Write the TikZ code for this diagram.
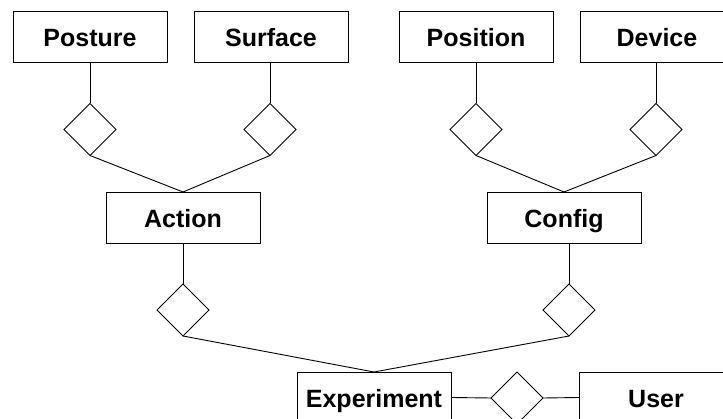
\documentclass[tikz,border=0pt]{standalone}
\usepackage{fontspec}
\setmainfont{Liberation Sans}
\usetikzlibrary{shapes.geometric}
\begin{document}
\begin{tikzpicture}[x=1pt,y=-1pt,
  ent/.style={draw, line width=0.9pt, minimum width=154pt, minimum height=51pt, inner sep=0pt, outer sep=0pt, text height=21pt, text depth=0pt, font=\fontsize{25}{28}\selectfont\bfseries},
  rel/.style={draw, diamond, line width=0.9pt, minimum width=52pt, minimum height=52pt, inner sep=0pt, outer sep=0pt},
  conn/.style={line width=0.9pt}]
\useasboundingbox (0,0) rectangle (723,419);
\clip (0,0) rectangle (723,419);
\node[ent] (posture) at (90,36.5) {Posture};
\node[ent] (surface) at (271,36.5) {Surface};
\node[ent] (position) at (476,36.5) {Position};
\node[ent] (device) at (657,36.5) {Device};
\node[rel] (dpost) at (90,129.5) {};
\node[rel] (dsurf) at (270,129.5) {};
\node[rel] (dpos) at (476,129.5) {};
\node[rel] (ddev) at (656,129.5) {};
\node[ent] (action) at (183,217.5) {Action};
\node[ent] (config) at (564,217.5) {Config};
\node[rel] (dact) at (183,310) {};
\node[rel] (dconf) at (569,310) {};
\node[ent] (exp) at (374,397.5) {Experiment};
\node[rel] (duser) at (517,398) {};
\node[ent] (user) at (656,397.5) {User};
\draw[conn] (posture.south) -- (dpost.north);
\draw[conn] (surface.south -| dsurf.north) -- (dsurf.north);
\draw[conn] (position.south) -- (dpos.north);
\draw[conn] (device.south -| ddev.north) -- (ddev.north);
\draw[conn] (dpost.south) -- (action.north);
\draw[conn] (dsurf.south) -- (action.north);
\draw[conn] (dpos.south) -- (config.north);
\draw[conn] (ddev.south) -- (config.north);
\draw[conn] (action.south) -- (dact.north);
\draw[conn] (config.south -| dconf.north) -- (dconf.north);
\draw[conn] (dact.south) -- (exp.north);
\draw[conn] (dconf.south) -- (exp.north);
\draw[conn] (exp.east) -- (duser.west);
\draw[conn] (duser.east) -- (user.west);
\end{tikzpicture}
\end{document}
